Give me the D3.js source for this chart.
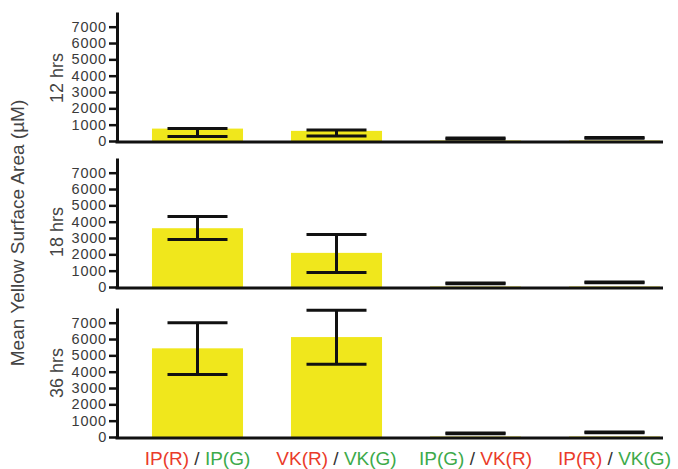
<!DOCTYPE html>
<html>
<head>
<meta charset="utf-8">
<script src="https://cdn.jsdelivr.net/npm/d3@7"></script>
<style>
  body { margin: 0; background: #fff; }
  text { font-family: "Liberation Sans", Arial, sans-serif; }
</style>
</head>
<body>
<div id="vis"></div>
<script>
// data
const categories = ['IP(R) / IP(G)', 'VK(R) / VK(G)', 'IP(G) / VK(R)', 'IP(R) / VK(G)']
// each category label split into coloured parts
const labelParts = [
  [['IP(R)', 'red'], [' / ', 'dark'], ['IP(G)', 'green']],
  [['VK(R)', 'red'], [' / ', 'dark'], ['VK(G)', 'green']],
  [['IP(G)', 'green'], [' / ', 'dark'], ['VK(R)', 'red']],
  [['IP(R)', 'red'], [' / ', 'dark'], ['VK(G)', 'green']]
]
const panels = ['12 hrs', '18 hrs', '36 hrs']
const means = [
  [760, 620, 30, 30],
  [3600, 2090, 30, 30],
  [5430, 6120, 30, 30]
]
const errLow = [
  [280, 300, 130, 170],
  [2910, 890, 200, 260],
  [3820, 4460, 200, 260]
]
const errHigh = [
  [770, 680, 180, 220],
  [4320, 3220, 240, 300],
  [7000, 7760, 240, 300]
]
const yTicks = [0, 1000, 2000, 3000, 4000, 5000, 6000, 7000]

// layout
const W = 678, H = 469
const axisX = 117, axisEnd = 663
const baselines = [141, 287, 437]
const labelOffsets = [63, 55, 64]
const panelH = 129
const colors = { red: '#ea3b2a', green: '#3daa4a', dark: '#333', bar: '#f0e71c' }

let svg = d3.select('#vis')
  .append('svg')
  .attr('width', W)
  .attr('height', H)
  .style('background-color', 'white')

let x = d3.scaleBand()
  .domain(categories)
  .range([128, 684])
  .paddingInner(0.345)
  .paddingOuter(0.1725)

panels.forEach((p, pi) => {
  let base = baselines[pi]
  let y = d3.scaleLinear().domain([0, 7900]).range([base, base - panelH])
  let g = svg.append('g')

  // bars
  g.selectAll('rect.bar')
    .data(means[pi])
    .join('rect')
    .attr('class', 'bar')
    .attr('x', (d, i) => x(categories[i]))
    .attr('width', x.bandwidth())
    .attr('y', d => y(d))
    .attr('height', d => base - y(d))
    .attr('fill', colors.bar)

  // error bars
  let capW = 60
  means[pi].forEach((d, i) => {
    let cx = x(categories[i]) + x.bandwidth() / 2
    let lo = y(errLow[pi][i]), hi = y(errHigh[pi][i])
    g.append('line').attr('x1', cx).attr('x2', cx).attr('y1', lo).attr('y2', hi)
      .attr('stroke', '#111').attr('stroke-width', 3)
    ;[lo, hi].forEach(yy => {
      g.append('line').attr('x1', cx - capW / 2).attr('x2', cx + capW / 2)
        .attr('y1', yy).attr('y2', yy)
        .attr('stroke', '#111').attr('stroke-width', 3)
    })
  })

  // y axis
  let yAxis = g.append('g')
    .attr('transform', `translate(${axisX},0)`)
    .call(d3.axisLeft(y).tickValues(yTicks).tickFormat(d3.format('d'))
      .tickSize(8).tickPadding(2).tickSizeOuter(0))
  yAxis.select('.domain').attr('stroke', '#111').attr('stroke-width', 3)
  yAxis.selectAll('.tick line').attr('stroke', '#111').attr('stroke-width', 2.5)
  yAxis.selectAll('.tick text')
    .attr('fill', '#3a3a3a')
    .style('font-size', '14.5px')
    .style('letter-spacing', '0.8px')

  // x axis line
  g.append('line')
    .attr('x1', axisX - 1.5).attr('x2', axisEnd)
    .attr('y1', base + 1).attr('y2', base + 1)
    .attr('stroke', '#111').attr('stroke-width', 3)

  // panel label
  g.append('text')
    .attr('transform', `translate(63,${base - labelOffsets[pi]}) rotate(-90)`)
    .attr('text-anchor', 'middle')
    .attr('fill', '#444')
    .style('font-size', '18px')
    .text(p)
})

// shared y title
svg.append('text')
  .attr('transform', `translate(24,${233}) rotate(-90)`)
  .attr('text-anchor', 'middle')
  .attr('fill', '#444')
  .style('font-size', '19px')
  .text('Mean Yellow Surface Area (\u00b5M)')

// category labels
categories.forEach((c, i) => {
  let t = svg.append('text')
    .attr('x', x(c) + x.bandwidth() / 2)
    .attr('y', 465)
    .attr('text-anchor', 'middle')
    .style('font-size', '19px')
    .attr('xml:space', 'preserve')
  labelParts[i].forEach(([s, col]) => {
    t.append('tspan').attr('fill', colors[col]).text(s)
  })
})
</script>
</body>
</html>
